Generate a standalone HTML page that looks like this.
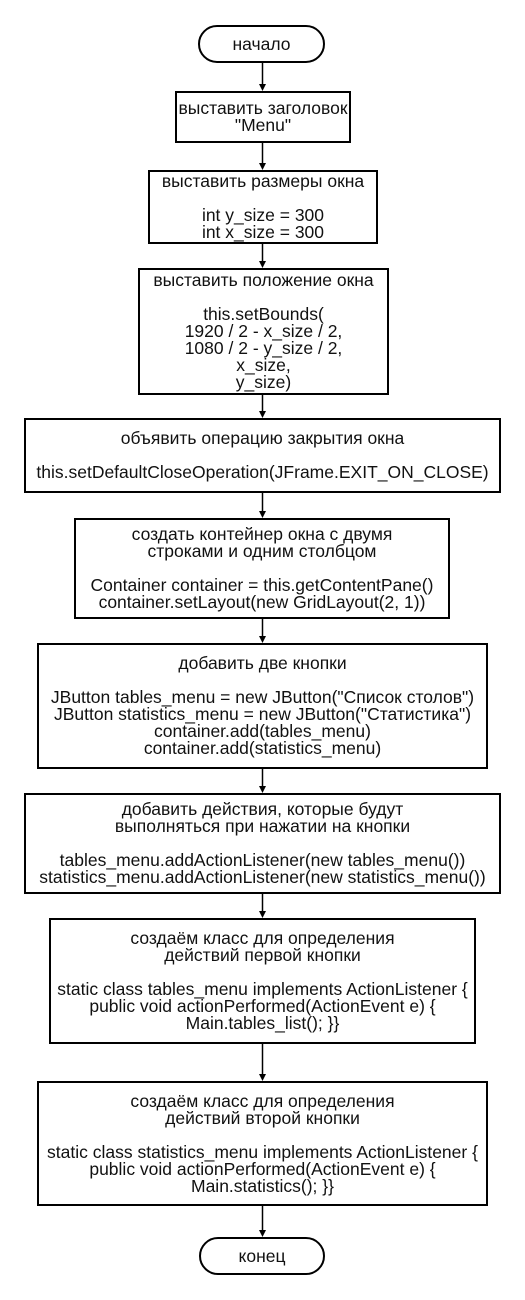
<!DOCTYPE html>
<html><head><meta charset="utf-8"><style>
body{margin:0;width:525px;height:1300px;background:#fff;position:relative;overflow:hidden;font-family:"Liberation Sans",Arial,sans-serif;font-size:17.5px;color:#111}
.b{position:absolute;box-sizing:border-box;border:2.5px solid #000;display:flex;align-items:center;justify-content:center;text-align:center;line-height:17px;white-space:pre;background:#fff}
.t{border-radius:20px}
svg{position:absolute;left:0;top:0}
</style></head><body>
<svg width="525" height="1300">
<g stroke="#000" stroke-width="1.5">
<line x1="262.5" y1="63" x2="262.5" y2="86"/>
<line x1="262.5" y1="143" x2="262.5" y2="165"/>
<line x1="262.5" y1="244" x2="262.5" y2="263"/>
<line x1="262.5" y1="395" x2="262.5" y2="413"/>
<line x1="262.5" y1="493" x2="262.5" y2="513"/>
<line x1="262.5" y1="619" x2="262.5" y2="638"/>
<line x1="262.5" y1="769" x2="262.5" y2="788"/>
<line x1="262.5" y1="894" x2="262.5" y2="913"/>
<line x1="262.5" y1="1044" x2="262.5" y2="1076"/>
<line x1="262.5" y1="1206" x2="262.5" y2="1232"/>
</g>
<g fill="#000">
<polygon points="259,84 266,84 262.5,91"/>
<polygon points="259,163 266,163 262.5,170"/>
<polygon points="259,261 266,261 262.5,268"/>
<polygon points="259,411 266,411 262.5,418"/>
<polygon points="259,511 266,511 262.5,518"/>
<polygon points="259,636 266,636 262.5,643"/>
<polygon points="259,786 266,786 262.5,793"/>
<polygon points="259,911 266,911 262.5,918"/>
<polygon points="259,1074 266,1074 262.5,1081"/>
<polygon points="259,1230 266,1230 262.5,1237"/>
</g></svg>
<div class="b t" style="left:198px;top:25px;width:127px;height:38px">начало</div>
<div class="b" style="left:175px;top:91px;width:176px;height:52px">выставить заголовок
"Menu"</div>
<div class="b" style="left:148px;top:170px;width:230px;height:74px">выставить размеры окна

int y_size = 300
int x_size = 300</div>
<div class="b" style="left:138px;top:268px;width:251px;height:127px">выставить положение окна

this.setBounds(
1920 / 2 - x_size / 2,
1080 / 2 - y_size / 2,
x_size,
y_size)</div>
<div class="b" style="left:24px;top:418px;width:477px;height:75px">объявить операцию закрытия окна

this.setDefaultCloseOperation(JFrame.EXIT_ON_CLOSE)</div>
<div class="b" style="left:74px;top:518px;width:376px;height:101px">создать контейнер окна с двумя
строками и одним столбцом

Container container = this.getContentPane()
container.setLayout(new GridLayout(2, 1))</div>
<div class="b" style="left:37px;top:643px;width:451px;height:126px">добавить две кнопки

JButton tables_menu = new JButton("Список столов")
JButton statistics_menu = new JButton("Статистика")
container.add(tables_menu)
container.add(statistics_menu)</div>
<div class="b" style="left:24px;top:793px;width:477px;height:101px">добавить действия, которые будут
выполняться при нажатии на кнопки

tables_menu.addActionListener(new tables_menu())
statistics_menu.addActionListener(new statistics_menu())</div>
<div class="b" style="left:49px;top:918px;width:427px;height:126px">создаём класс для определения
действий первой кнопки

static class tables_menu implements ActionListener {
public void actionPerformed(ActionEvent e) {
Main.tables_list(); }}</div>
<div class="b" style="left:37px;top:1081px;width:451px;height:125px">создаём класс для определения
действий второй кнопки

static class statistics_menu implements ActionListener {
public void actionPerformed(ActionEvent e) {
Main.statistics(); }}</div>
<div class="b t" style="left:199px;top:1237px;width:126px;height:38px">конец</div>
</body></html>
